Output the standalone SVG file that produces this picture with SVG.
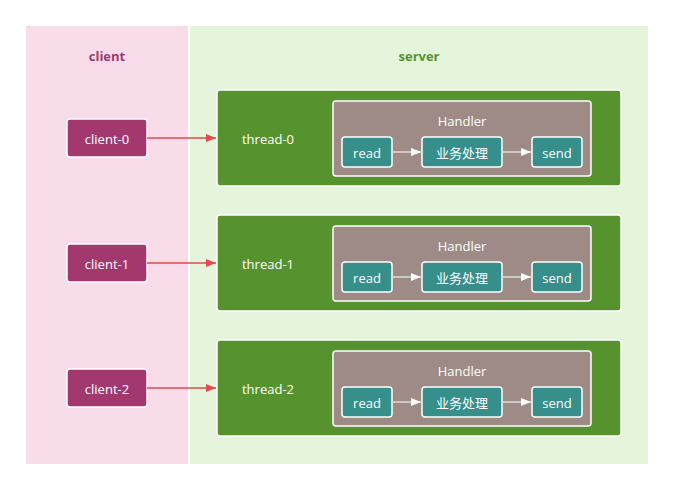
<svg xmlns="http://www.w3.org/2000/svg" width="674" height="490" viewBox="0 0 674 490">
<defs>
<style>
text{font-family:"Segoe UI","Open Sans","Noto Sans","Noto Sans CJK SC",sans-serif;font-size:13px;text-anchor:middle;dominant-baseline:central}
.lane-t{font-weight:bold}
.client rect{fill:#A3386F;stroke:#fff;stroke-width:1.5}
.frame{fill:#56932F;stroke:#fff;stroke-width:1.5}
.handler{fill:#9E8B86;stroke:#fff;stroke-width:1.5}
.step{fill:#368F8B;stroke:#fff;stroke-width:1.5}
.w{fill:#fff}
.red{stroke:#E5484D;stroke-width:1.5;fill:none}
.gray{stroke:#ddd;stroke-width:1.5;fill:none}
</style>
<marker id="ar" markerWidth="10" markerHeight="8" refX="10" refY="4" orient="auto" markerUnits="userSpaceOnUse"><path d="M0,0 L10,4 L0,8 Z" fill="#E5484D"/></marker>
<marker id="aw" markerWidth="10" markerHeight="8" refX="10" refY="4" orient="auto" markerUnits="userSpaceOnUse"><path d="M0,0 L10,4 L0,8 Z" fill="#fff"/></marker>
</defs>
<rect width="674" height="490" fill="#fff"/>
<g id="lane-client"><rect x="26" y="26" width="162" height="438" fill="#F9DCEA"/><text x="107" y="56" class="lane-t" fill="#A3386F">client</text></g>
<g id="lane-server"><rect x="190" y="26" width="458" height="438" fill="#E4F5DB"/><text x="419" y="56" class="lane-t" fill="#56932F">server</text></g>

<g id="client-0" class="client"><rect x="67" y="119" width="80" height="38" rx="3"/><text x="107" y="139" class="w">client-0</text></g>
<g id="client-1" class="client"><rect x="67" y="244" width="80" height="38" rx="3"/><text x="107" y="264" class="w">client-1</text></g>
<g id="client-2" class="client"><rect x="67" y="369" width="80" height="38" rx="3"/><text x="107" y="389" class="w">client-2</text></g>

<g id="thread-0"><rect class="frame" x="217" y="90" width="404" height="96" rx="3"/><text x="268" y="139" class="w">thread-0</text>
<rect class="handler" x="333" y="101" width="258" height="75" rx="3"/><text x="462" y="121" class="w">Handler</text>
<rect class="step" x="342" y="137" width="50" height="30" rx="3"/><text x="367" y="153" class="w">read</text>
<rect class="step" x="422" y="137" width="80" height="30" rx="3"/><text x="462" y="153" class="w">业务处理</text>
<rect class="step" x="532" y="137" width="50" height="30" rx="3"/><text x="557" y="153" class="w">send</text></g>

<g id="thread-1"><rect class="frame" x="217" y="215" width="404" height="96" rx="3"/><text x="268" y="264" class="w">thread-1</text>
<rect class="handler" x="333" y="226" width="258" height="75" rx="3"/><text x="462" y="246" class="w">Handler</text>
<rect class="step" x="342" y="262" width="50" height="30" rx="3"/><text x="367" y="278" class="w">read</text>
<rect class="step" x="422" y="262" width="80" height="30" rx="3"/><text x="462" y="278" class="w">业务处理</text>
<rect class="step" x="532" y="262" width="50" height="30" rx="3"/><text x="557" y="278" class="w">send</text></g>

<g id="thread-2"><rect class="frame" x="217" y="340" width="404" height="96" rx="3"/><text x="268" y="389" class="w">thread-2</text>
<rect class="handler" x="333" y="351" width="258" height="75" rx="3"/><text x="462" y="371" class="w">Handler</text>
<rect class="step" x="342" y="387" width="50" height="30" rx="3"/><text x="367" y="403" class="w">read</text>
<rect class="step" x="422" y="387" width="80" height="30" rx="3"/><text x="462" y="403" class="w">业务处理</text>
<rect class="step" x="532" y="387" width="50" height="30" rx="3"/><text x="557" y="403" class="w">send</text></g>

<g id="connectors">
<path class="red" d="M147,138 H216" marker-end="url(#ar)"/>
<path class="red" d="M147,263 H216" marker-end="url(#ar)"/>
<path class="red" d="M147,388 H216" marker-end="url(#ar)"/>
<path class="gray" d="M392,152 H421" marker-end="url(#aw)"/>
<path class="gray" d="M502,152 H531" marker-end="url(#aw)"/>
<path class="gray" d="M392,277 H421" marker-end="url(#aw)"/>
<path class="gray" d="M502,277 H531" marker-end="url(#aw)"/>
<path class="gray" d="M392,402 H421" marker-end="url(#aw)"/>
<path class="gray" d="M502,402 H531" marker-end="url(#aw)"/>
</g>
</svg>
